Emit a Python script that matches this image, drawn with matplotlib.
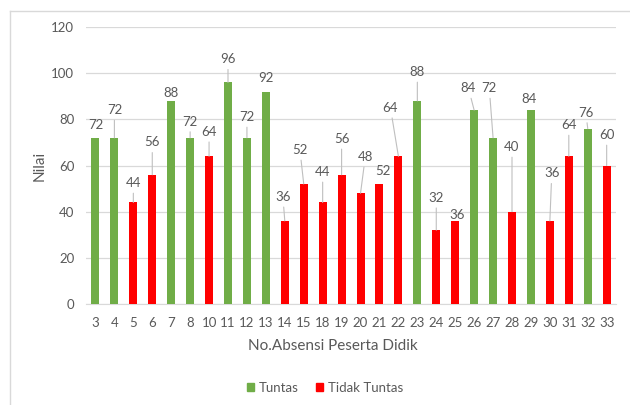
import matplotlib.pyplot as plt
from matplotlib.lines import Line2D
from matplotlib.patches import Patch

plt.rcParams['font.family'] = ['Lato', 'DejaVu Sans']

# Nilai per peserta didik
students = ['3', '4', '5', '6', '7', '8', '10', '11', '12', '13', '14', '15', '18', '19',
            '20', '21', '22', '23', '24', '25', '26', '27', '28', '29', '30', '31', '32', '33']
scores = [72, 72, 44, 56, 88, 72, 64, 96, 72, 92, 36, 52, 44, 56,
          48, 52, 64, 88, 32, 36, 84, 72, 40, 84, 36, 64, 76, 60]
kkm = 70

# where each value label sits (y in data units, x shift in category units)
label_y = [77.6, 84, 52.4, 70, 91.5, 79, 74.6, 106, 81, 98, 46.4, 66.7, 57.2, 71.5,
           63.7, 57.7, 85, 100.5, 46, 38.6, 93.5, 93.5, 68, 88.7, 56.6, 77.5, 82.9, 73.2]
label_dx = [0, 0, 0, 0, 0, 0, 0, 0, 0, 0, -0.1, -0.2, 0, 0,
            0.25, 0.18, -0.42, 0, 0, 0.1, -0.3, -0.2, 0, -0.1, 0.1, 0, -0.1, 0]

GREEN = '#70AD47'
RED = '#FF0000'
TEXT = '#595959'
GRID = '#D9D9D9'

fig = plt.figure(figsize=(6.3, 4.05), dpi=100)
ax = fig.add_axes([0.1365, 0.2494, 0.8415, 0.6839])

x = list(range(len(students)))
colors = [GREEN if s >= kkm else RED for s in scores]
ax.bar(x, scores, width=0.42, color=colors, zorder=3)

for i, (s, ly, dx) in enumerate(zip(scores, label_y, label_dx)):
    props = None
    if ly - s > 6.5:
        props = dict(arrowstyle='-', color='#BFBFBF', lw=0.8, shrinkA=1, shrinkB=0)
    ax.annotate(str(s), xy=(i, s), xytext=(i + dx, ly), ha='center', va='center',
                fontsize=9.5, color=TEXT, arrowprops=props, zorder=4)

ax.set_xlim(-0.5, len(students) - 0.5)
ax.set_ylim(0, 120)
ax.set_yticks(range(0, 121, 20))
ax.set_xticks(x)
ax.set_xticklabels(students)
ax.tick_params(axis='both', length=0, labelsize=9.5, labelcolor=TEXT)
ax.tick_params(axis='y', pad=8.5)
ax.tick_params(axis='x', pad=9.5)
ax.grid(axis='y', color=GRID, lw=0.9, zorder=0)
for side in ['top', 'right', 'left']:
    ax.spines[side].set_visible(False)
ax.spines['bottom'].set_color(GRID)

ax.set_ylabel('Nilai', fontsize=11, color=TEXT)
ax.yaxis.set_label_coords(-0.087, 0.5)
ax.set_xlabel('No.Absensi Peserta Didik', fontsize=11, color=TEXT)
ax.xaxis.set_label_coords(0.465, -0.152)
ax.xaxis.label.set_va('center')
ax.yaxis.label.set_va('center')

handles = [Patch(color=GREEN, label='Tuntas'), Patch(color=RED, label='Tidak Tuntas')]
leg = fig.legend(handles=handles, loc='center', bbox_to_anchor=(0.516, 0.042), ncol=2,
                 frameon=False, fontsize=9.5, handlelength=0.55, handleheight=0.55,
                 handletextpad=0.35, columnspacing=1.3)
for t in leg.get_texts():
    t.set_color(TEXT)

# chart frame
fig.add_artist(Line2D([10 / 630, 10 / 630], [0, 1 - 11 / 405], color=GRID, lw=1,
                      transform=fig.transFigure))
fig.add_artist(Line2D([10 / 630, 1], [1 - 11 / 405, 1 - 11 / 405], color=GRID, lw=1,
                      transform=fig.transFigure))

fig.savefig('out.png', dpi=100, facecolor='white')
